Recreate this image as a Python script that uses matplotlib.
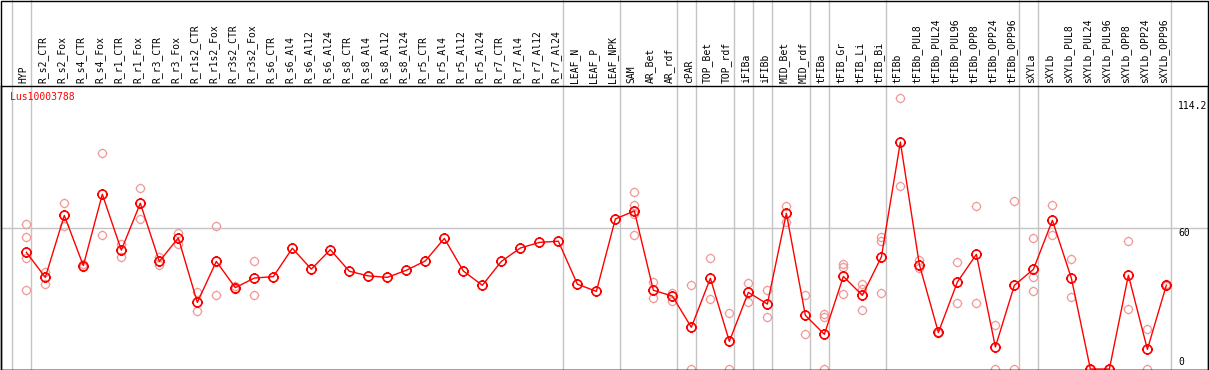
import matplotlib
matplotlib.use("Agg")
import matplotlib.pyplot as plt
from matplotlib.path import Path
from matplotlib.patches import Rectangle
from matplotlib.transforms import blended_transform_factory

# sample names along the x axis
labels = ['HYP', 'R_s2_CTR', 'R_s2_Fox', 'R_s4_CTR', 'R_s4_Fox', 'R_r1_CTR', 'R_r1_Fox',
          'R_r3_CTR', 'R_r3_Fox', 'R_r1s2_CTR', 'R_r1s2_Fox', 'R_r3s2_CTR', 'R_r3s2_Fox',
          'R_s6_CTR', 'R_s6_Al4', 'R_s6_Al12', 'R_s6_Al24', 'R_s8_CTR', 'R_s8_Al4',
          'R_s8_Al12', 'R_s8_Al24', 'R_r5_CTR', 'R_r5_Al4', 'R_r5_Al12', 'R_r5_Al24',
          'R_r7_CTR', 'R_r7_Al4', 'R_r7_Al12', 'R_r7_Al24', 'LEAF_N', 'LEAF_P', 'LEAF_NPK',
          'SAM', 'AR_Bet', 'AR_rdf', 'cPAR', 'TOP_Bet', 'TOP_rdf', 'iFIBa', 'iFIBb',
          'MID_Bet', 'MID_rdf', 'tFIBa', 'tFIB_Gr', 'tFIB_Li', 'tFIB_Bi', 'tFIBb',
          'tFIBb_PUL8', 'tFIBb_PUL24', 'tFIBb_PUL96', 'tFIBb_OPP8', 'tFIBb_OPP24',
          'tFIBb_OPP96', 'sXYLa', 'sXYLb', 'sXYLb_PUL8', 'sXYLb_PUL24', 'sXYLb_PUL96',
          'sXYLb_OPP8', 'sXYLb_OPP24', 'sXYLb_OPP96']

# mean expression per sample
mean = [49.8, 39.1, 65.5, 44.1, 74.5, 50.7, 70.7, 45.9, 55.9, 28.4,
        45.9, 34.7, 38.8, 39.4, 51.5, 42.6, 50.9, 41.7, 39.7, 39.1,
        42.1, 46.1, 55.7, 41.8, 35.7, 45.9, 51.6, 54.0, 54.5, 36.2,
        33.1, 64.0, 67.4, 33.6, 31.1, 17.8, 38.7, 11.8, 32.7, 27.7,
        66.4, 22.9, 14.8, 39.5, 31.4, 47.8, 96.8, 44.5, 15.6, 37.1,
        48.9, 9.4, 35.7, 42.5, 63.4, 38.7, 0.0, 0.0, 40.0, 8.4, 35.8]

# individual replicates per sample
reps = [[61.7, 56.2, 47.5, 33.6], [41.5, 36.4], [70.7, 60.9], [44.6, 43.6],
        [92.0, 57.0], [53.2, 47.9], [77.1, 63.8], [47.9, 44.3], [58.1, 53.3],
        [32.8, 24.6], [60.9, 31.4], [35.3, 34.1], [45.9, 31.4],
        [], [], [], [], [], [], [], [], [], [], [], [], [], [], [], [], [], [], [],
        [75.5, 69.9, 66.0, 57.0], [37.0, 30.3], [32.5, 28.9], [35.7, 0.0],
        [47.3, 29.7], [23.8, 0.0], [36.7, 28.7], [33.6, 22.0], [69.4, 62.8],
        [31.4, 14.8], [23.3, 22.0, 0.0], [44.6, 43.5, 31.9], [36.2, 34.1, 25.0],
        [56.4, 54.7, 32.3], [115.6, 77.9], [46.6, 42.9], [16.0, 15.2], [45.5, 28.1],
        [69.4, 28.1], [18.6, 0.0], [71.5, 0.0], [55.7, 39.4, 33.1], [69.8, 57.0],
        [46.8, 30.6], [0.0, 0.0], [0.0, 0.0], [54.5, 25.5], [17.1, 0.0], [36.4, 35.2]]

# group separators drawn right after these sample indices
group_ends = [-1, 0, 28, 31, 34, 35, 37, 38, 39, 41, 42, 45, 52, 53, 60]

gene = 'Lus10003788'
ytick_vals = [114.2, 60, 0]

W, H = 1209, 370
mono = 'DejaVu Sans Mono'

# circle with four little ticks
circ = Path.unit_circle()
t = 1.22
ticks = Path([(0, 1), (0, t), (0, -1), (0, -t), (1, 0), (t, 0), (-1, 0), (-t, 0)],
             [Path.MOVETO, Path.LINETO] * 4)
marker = Path.make_compound_path(circ, ticks)

fig = plt.figure(figsize=(W / 100, H / 100), dpi=100)
ax = fig.add_axes([1 / W, 0.5 / H, 1207 / W, 284 / H])
ax.set_xlim(-1.332, 62.19)
ax.set_ylim(-0.2, 120.9)
ax.set_xticks([])
ax.set_yticks([])
for s in ax.spines.values():
    s.set_color('black')
    s.set_linewidth(1)

xs = list(range(len(labels)))

# grid
ax.axhline(60, color='#c4c4c4', lw=1, zorder=0)
for g in group_ends:
    ax.axvline(g + 0.24, ymin=0, ymax=369.5 / 284, color='#c4c4c4', lw=1,
               clip_on=False, zorder=0)

# replicate points
for i, r in enumerate(reps):
    if r:
        ax.plot([i] * len(r), r, linestyle='none', marker=marker, ms=7.0,
                mfc='none', mec='#f09a9a', mew=0.9, zorder=2, clip_on=False)

# mean line
ax.plot(xs, mean, color='red', lw=1, zorder=3, clip_on=False)
ax.plot(xs, mean, linestyle='none', marker=marker, ms=7.8, mfc='none',
        mec='red', mew=1.2, zorder=4, clip_on=False)

# header labels
hdr = blended_transform_factory(ax.transData, ax.transAxes)
for i, lab in enumerate(labels):
    ax.text(i - 0.14, 1.009, lab, rotation=90, ha='center', va='bottom',
            family=mono, fontsize=7, transform=hdr, clip_on=False)

# right value labels
rt = blended_transform_factory(fig.transFigure, ax.transData)
for v in ytick_vals:
    ax.text(1178 / W, v if v > 0 else 0.8, f'{v:g}',
            ha='left', va='top' if v > 0 else 'bottom',
            family=mono, fontsize=7, transform=rt, clip_on=False)

fig.text(10 / W, 1 - 97 / H, gene, color='red', family=mono, fontsize=7,
         ha='left', va='center')

# outer frame
fig.add_artist(Rectangle((1 / W, 0.5 / H), 1207 / W, 369 / H, fill=False,
                         ec='black', lw=1, transform=fig.transFigure))

fig.savefig('out.png', dpi=100)
